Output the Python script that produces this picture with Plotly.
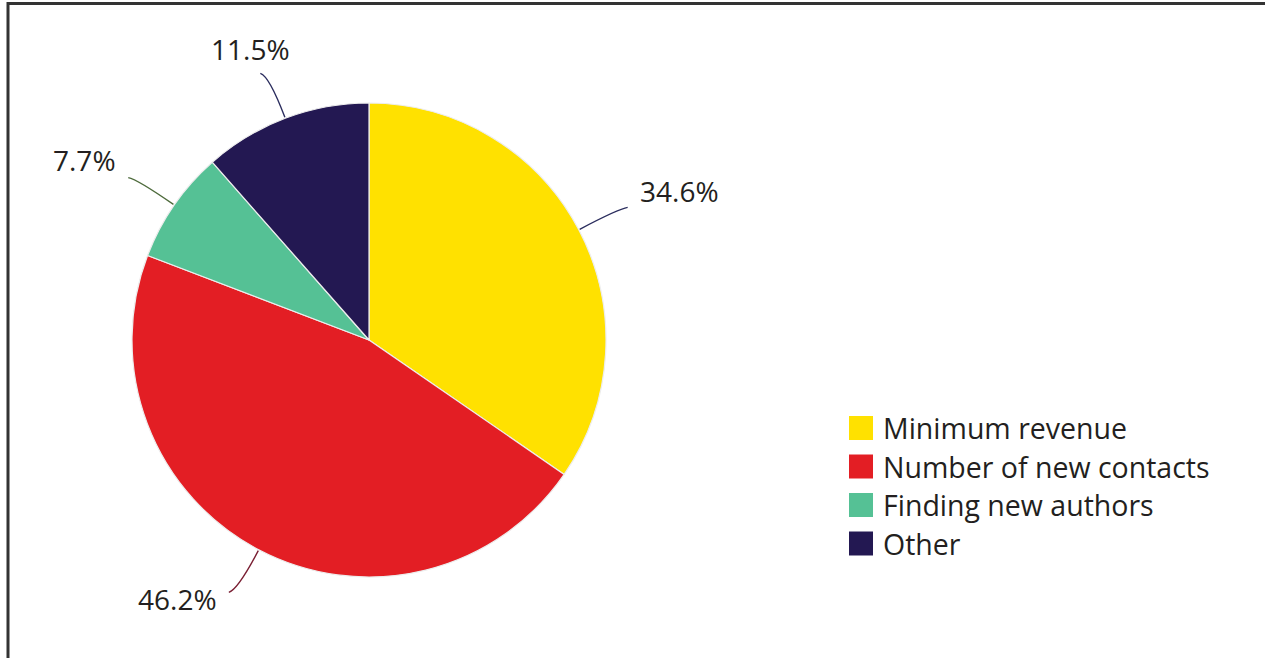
import math
import plotly.graph_objects as go

categories = ["Minimum revenue", "Number of new contacts", "Finding new authors", "Other"]
values = [34.6, 46.2, 7.7, 11.5]
value_labels = ["34.6%", "46.2%", "7.7%", "11.5%"]

colors = ["#FFE100", "#E31E24", "#55C195", "#231852"]
leader_colors = ["#2B2D5E", "#7A1F33", "#4E6B3C", "#2B2D5E"]

W, H = 1265, 658
# pie placement (pixels)
cx, cy, R = 369, 340, 237

def px(x):
    return x / W

def py(y):
    return 1 - y / H

fig = go.Figure()
fig.add_trace(go.Pie(
    labels=categories,
    values=values,
    sort=False,
    direction="clockwise",
    rotation=0,
    marker=dict(colors=colors, line=dict(color="#EDEDED", width=1.2)),
    textinfo="none",
    hoverinfo="label+percent",
    showlegend=False,
    domain=dict(x=[px(cx - R), px(cx + R)], y=[py(cy + R), py(cy - R)]),
))

font_family = "Open Sans, Noto Sans, sans-serif"
text_color = "#231F20"

annotations = []
shapes = []
total = sum(values)
cum = 0.0
for v, lab, lc in zip(values, value_labels, leader_colors):
    mid = (cum + v / 2) / total * 2 * math.pi
    cum += v
    s, c = math.sin(mid), math.cos(mid)
    # leader line: slight curve from slice edge outward
    x0, y0 = cx + (R + 1) * s, cy - (R + 1) * c
    xc, yc = cx + 1.19 * R * s, cy - 1.19 * R * c
    side = 1 if s > 0 else -1
    x1, y1 = xc + side * 9, yc - 3 * c
    shapes.append(dict(
        type="path", xref="paper", yref="paper",
        path=f"M {px(x0)},{py(y0)} Q {px(xc)},{py(yc)} {px(x1)},{py(y1)}",
        line=dict(color=lc, width=1.4),
    ))
    if abs(s) < 0.4:
        xanchor, xs = "center", 10 * side
    elif s > 0:
        xanchor, xs = "left", 10
    else:
        xanchor, xs = "right", -10
    annotations.append(dict(
        x=px(x1), y=py(y1), xref="paper", yref="paper",
        xanchor=xanchor, yanchor="middle", xshift=xs, yshift=16.7 * c + 8.4,
        text=lab, showarrow=False,
        font=dict(family=font_family, size=28, color=text_color),
    ))

# legend
leg_x, leg_y0, leg_dy, sw = 849, 428, 38.5, 24
for i, (cat, col) in enumerate(zip(categories, colors)):
    yc = leg_y0 + i * leg_dy
    shapes.append(dict(type="rect", xref="paper", yref="paper",
                       x0=px(leg_x), x1=px(leg_x + sw),
                       y0=py(yc + sw / 2), y1=py(yc - sw / 2),
                       fillcolor=col, line=dict(width=0)))
    annotations.append(dict(
        x=px(leg_x + sw + 8), y=py(yc), xref="paper", yref="paper",
        xanchor="left", yanchor="middle", showarrow=False, text=cat,
        font=dict(family=font_family, size=28.5, color=text_color),
    ))

# frame (top and left edges)
shapes.append(dict(type="line", xref="paper", yref="paper",
                   x0=px(7), x1=1, y0=py(3.5), y1=py(3.5),
                   line=dict(color="#333333", width=3)))
shapes.append(dict(type="line", xref="paper", yref="paper",
                   x0=px(8), x1=px(8), y0=py(2), y1=0,
                   line=dict(color="#333333", width=3)))

fig.update_layout(
    width=W, height=H,
    margin=dict(l=0, r=0, t=0, b=0),
    paper_bgcolor="white", plot_bgcolor="white",
    annotations=annotations, shapes=shapes,
    showlegend=False,
)

fig.write_html("out.html", config={"displayModeBar": False},
               post_script="document.body.style.margin='0';")
